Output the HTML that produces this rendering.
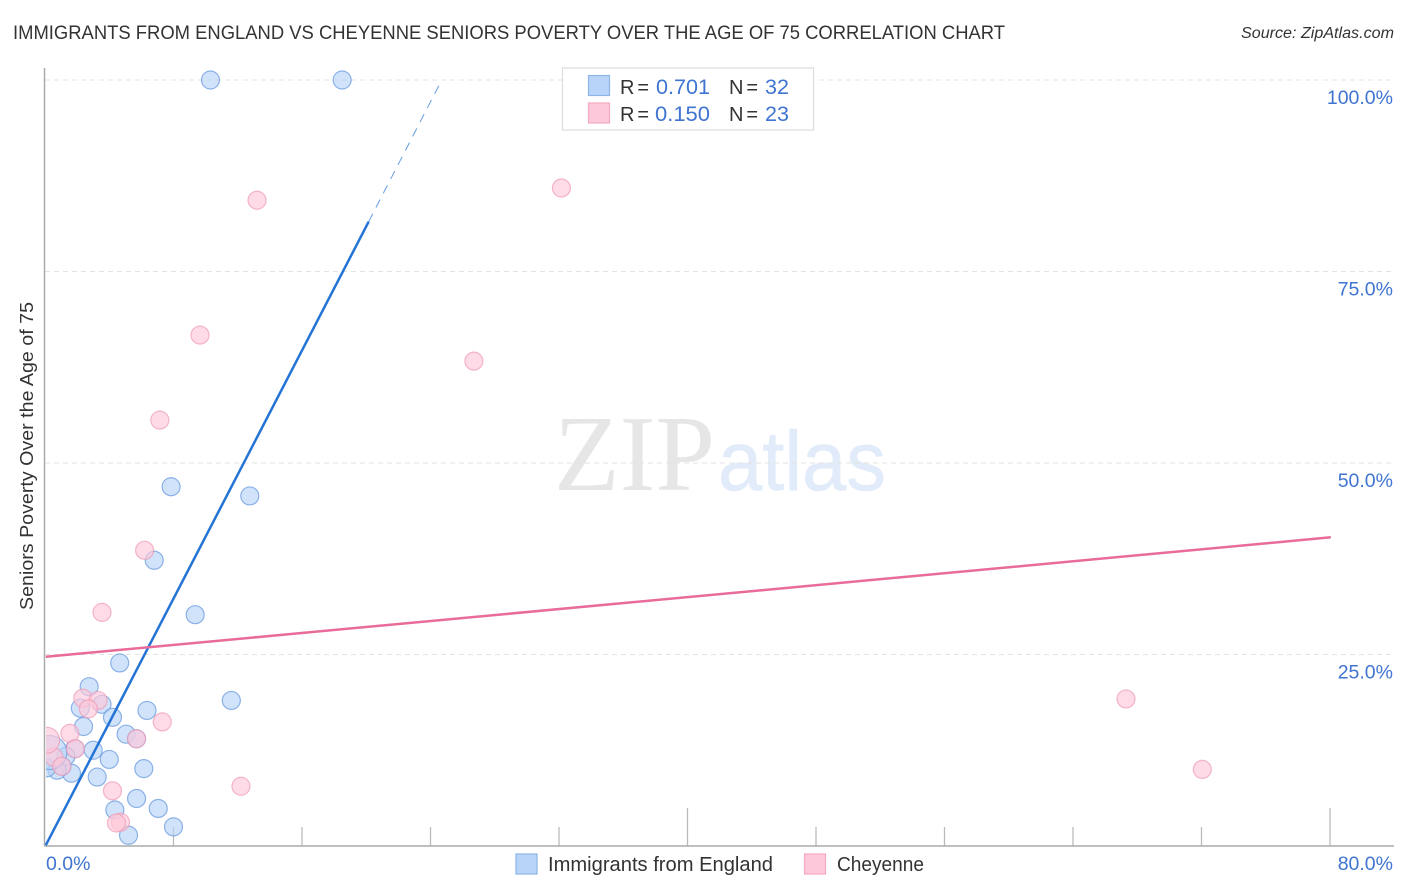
<!DOCTYPE html>
<html>
<head>
<meta charset="utf-8">
<title>Immigrants from England vs Cheyenne Seniors Poverty Correlation Chart</title>
<style>
html,body{margin:0;padding:0;background:#fff;width:1406px;height:892px;overflow:hidden}
svg{display:block;font-family:"Liberation Sans",sans-serif}
</style>
</head>
<body>
<svg id="chart" width="1406" height="892" viewBox="0 0 1406 892" xmlns="http://www.w3.org/2000/svg">
  <defs>
    <clipPath id="plot-clip"><rect x="46" y="60" width="1350" height="786"/></clipPath>
  </defs>
  <text x="13" y="39" font-size="19.5" fill="#333" textLength="992" lengthAdjust="spacingAndGlyphs">IMMIGRANTS FROM ENGLAND VS CHEYENNE SENIORS POVERTY OVER THE AGE OF 75 CORRELATION CHART</text>
  <text x="1394" y="38" font-size="15.5" font-style="italic" fill="#333" text-anchor="end" textLength="153" lengthAdjust="spacingAndGlyphs">Source: ZipAtlas.com</text>

  <g>
    <text x="554" y="490" font-family="'Liberation Serif',serif" font-size="108" fill="#e6e6e6" textLength="161" lengthAdjust="spacingAndGlyphs">ZIP</text>
    <text x="718" y="490" font-size="84" fill="#e1ebf9" stroke="#e1ebf9" stroke-width="0.6" textLength="168" lengthAdjust="spacingAndGlyphs">atlas</text>
  </g>

  <g id="grid"></g>
  <g id="ticks"></g>
  <line x1="44.5" y1="68" x2="44.5" y2="846" stroke="#aaa" stroke-width="1.5"/>
  <line x1="44" y1="846" x2="1394" y2="846" stroke="#aaa" stroke-width="1.5"/>
  <g id="points" clip-path="url(#plot-clip)"></g>
  <g id="trends"></g>
  <g id="labels"></g>

  <text transform="translate(33,456) rotate(-90)" font-size="18.5" fill="#333" text-anchor="middle" textLength="308" lengthAdjust="spacingAndGlyphs">Seniors Poverty Over the Age of 75</text>

  <g>
    <rect x="562.5" y="68" width="251" height="62" fill="#fff" stroke="#ddd" stroke-width="1.2"/>
    <rect x="588.5" y="75.5" width="21" height="20" fill="#b8d4f8" stroke="#8db5e8" stroke-width="1.2"/>
    <rect x="588.5" y="103" width="21" height="20" fill="#fdc8d9" stroke="#f3a9c0" stroke-width="1.2"/>
    <text x="620" y="94" font-size="20" fill="#333" textLength="29" lengthAdjust="spacing">R =</text>
    <text x="656" y="94" font-size="21" fill="#3f74d0" textLength="54" lengthAdjust="spacingAndGlyphs">0.701</text>
    <text x="729" y="94" font-size="20" fill="#333" textLength="29" lengthAdjust="spacing">N =</text>
    <text x="765" y="94" font-size="21" fill="#3f74d0" textLength="24" lengthAdjust="spacingAndGlyphs">32</text>
    <text x="620" y="121" font-size="20" fill="#333" textLength="29" lengthAdjust="spacing">R =</text>
    <text x="655" y="121" font-size="21" fill="#3f74d0" textLength="55" lengthAdjust="spacingAndGlyphs">0.150</text>
    <text x="729" y="121" font-size="20" fill="#333" textLength="29" lengthAdjust="spacing">N =</text>
    <text x="765" y="121" font-size="21" fill="#3f74d0" textLength="24" lengthAdjust="spacingAndGlyphs">23</text>
  </g>

  <g>
    <rect x="516" y="854" width="21" height="20" fill="#b8d4f8" stroke="#8db5e8" stroke-width="1.2"/>
    <text x="548" y="871" font-size="20" fill="#333" textLength="225" lengthAdjust="spacingAndGlyphs">Immigrants from England</text>
    <rect x="804.5" y="854" width="21" height="20" fill="#fdc8d9" stroke="#f3a9c0" stroke-width="1.2"/>
    <text x="837" y="871" font-size="20" fill="#333" textLength="87" lengthAdjust="spacingAndGlyphs">Cheyenne</text>
  </g>
</svg>
<script>
const yTickValues = [100, 75, 50, 25];
const yTickLabels = ["100.0%", "75.0%", "50.0%", "25.0%"];
const xTickValues = [8, 16, 24, 32, 40, 48, 56, 64, 72, 80];
const xMajorTicks = [40, 80];
const xEndValues = [0, 80];
const xEndLabels = ["0.0%", "80.0%"];

const englandX = [10.3, 18.5, 7.85, 12.75, 6.8, 9.35, 4.65, 2.75, 11.6, 6.35, 2.2, 3.55, 4.2, 2.4, 5.05, 5.7, 1.85, 3.0, 1.3, 4.0, 6.15, 3.25, 1.65, 1.05, 0.75, 0.1, 0.3, 5.7, 4.35, 7.05, 8.0, 5.2];
const englandY = [100, 100, 46.9, 45.7, 37.3, 30.2, 23.9, 20.8, 19.0, 17.7, 18.0, 18.5, 16.8, 15.6, 14.6, 14.0, 12.7, 12.5, 11.7, 11.3, 10.1, 9.0, 9.5, 10.4, 9.9, 10.2, 12.2, 6.2, 4.7, 4.9, 2.5, 1.4];
const englandR = [9, 9, 9, 9, 9, 9, 9, 9, 9, 9, 9, 9, 9, 9, 9, 9, 9, 9, 9, 9, 9, 9, 9, 9, 9, 9, 17, 9, 9, 9, 9, 9];

const cheyenneX = [13.2, 32.15, 9.65, 26.7, 7.15, 6.2, 3.55, 67.3, 72.05, 2.35, 3.3, 2.7, 7.3, 1.55, 5.7, 1.9, 0.55, 1.05, 0.1, 4.2, 12.2, 4.7, 4.45];
const cheyenneY = [84.3, 85.9, 66.7, 63.3, 55.6, 38.6, 30.5, 19.2, 10.0, 19.3, 19.0, 17.9, 16.2, 14.7, 14.0, 12.7, 11.6, 10.4, 13.8, 7.2, 7.8, 3.1, 3.0];
const cheyenneR = [9, 9, 9, 9, 9, 9, 9, 9, 9, 9, 9, 9, 9, 9, 9, 9, 9, 9, 13, 9, 9, 9, 9];

const englandTrendX = [0.05, 20.15, 24.7];
const englandTrendY = [0.1, 81.5, 100];
const cheyenneTrendX = [0.05, 80.05];
const cheyenneTrendY = [24.7, 40.3];

const NS = "http://www.w3.org/2000/svg";
function xScale(v) { return 45 + v * (1285 / 80); }
function yScale(v) { return 846 - v * (766 / 100); }
function make(tag, attrs, parent, text) {
  const el = document.createElementNS(NS, tag);
  for (const k in attrs) el.setAttribute(k, attrs[k]);
  if (text !== undefined) el.textContent = text;
  document.getElementById(parent).appendChild(el);
  return el;
}

yTickValues.forEach(function (v, i) {
  const g = make("line", {x1: 45, x2: 1394, y1: yScale(v), y2: yScale(v), stroke: "#e3e3e3", "stroke-width": 1, "stroke-dasharray": "5 4"}, "grid");
  
  
  const t = make("text", {x: 1393, y: yScale(v) + 24, "font-size": 19.5, fill: "#3f74d0", "text-anchor": "end"}, "labels", yTickLabels[i]);
  
  
});

xTickValues.forEach(function (v) {
  const tall = xMajorTicks.indexOf(v) >= 0;
  const l = make("line", {x1: xScale(v), x2: xScale(v), y1: tall ? 808 : 827, y2: 846, stroke: "#bbb", "stroke-width": 1.3}, "ticks");
  
  
});

xEndValues.forEach(function (v, i) {
  const t = make("text", {x: i === 0 ? xScale(v) + 1 : xScale(v) + 63, y: 870, "font-size": 19.5, fill: "#3f74d0", "text-anchor": i === 0 ? "start" : "end"}, "labels", xEndLabels[i]);
  
  
});

englandX.forEach(function (v, i) {
  const c = make("circle", {cx: xScale(v), cy: yScale(englandY[i]), r: englandR[i], fill: "#b8d4f8", "fill-opacity": 0.65, stroke: "#6a9bdf", "stroke-opacity": 0.75, "stroke-width": 1.2}, "points");
  
  
});

cheyenneX.forEach(function (v, i) {
  const c = make("circle", {cx: xScale(v), cy: yScale(cheyenneY[i]), r: cheyenneR[i], fill: "#fdc8d9", "fill-opacity": 0.65, stroke: "#ee9ab5", "stroke-opacity": 0.7, "stroke-width": 1.2}, "points");
  
  
});

const solidBlue = make("line", {x1: xScale(englandTrendX[0]), y1: yScale(englandTrendY[0]), x2: xScale(englandTrendX[1]), y2: yScale(englandTrendY[1]), stroke: "#2474d6", "stroke-width": 2.5}, "trends");



const dashBlue = make("line", {x1: xScale(englandTrendX[1]), y1: yScale(englandTrendY[1]), x2: xScale(englandTrendX[2]), y2: yScale(englandTrendY[2]), stroke: "#2474d6", "stroke-width": 1, "stroke-dasharray": "9 7", "stroke-opacity": 0.7}, "trends");



const pinkLine = make("line", {x1: xScale(cheyenneTrendX[0]), y1: yScale(cheyenneTrendY[0]), x2: xScale(cheyenneTrendX[1]), y2: yScale(cheyenneTrendY[1]), stroke: "#e96b9a", "stroke-width": 2.5}, "trends");


</script>
</body>
</html>
